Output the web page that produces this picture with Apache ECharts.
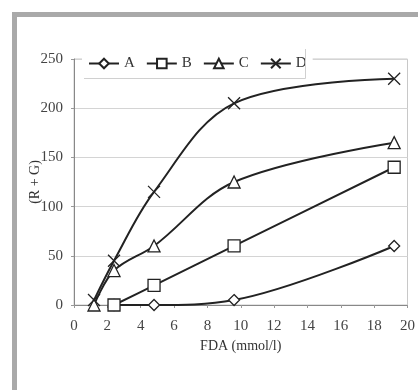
<!DOCTYPE html>
<html lang="en">
<head>
  <meta charset="utf-8">
  <title>FDA vs (R + G)</title>
  <style>
    * { margin: 0; padding: 0; }
    body { background: #fff; }
    #chart-container { width: 418px; height: 390px; }
  </style>
</head>
<body>
  <div id="chart-container"></div>
  <script src="https://fastly.jsdelivr.net/npm/echarts@6/dist/echarts.min.js"></script>
  <script>
    var dom = document.getElementById('chart-container');
    var myChart = echarts.init(dom, null, { renderer: 'canvas' });

    // FDA concentrations (mmol/l)
    const fda = [1.2, 2.4, 4.8, 9.6, 19.2];
    const seriesA = [null, 0, 0, 5, 60];
    const seriesB = [null, 0, 20, 60, 140];
    const seriesC = [0, 35, 60, 125, 165];
    const seriesD = [5, 45, 115, 205, 230];
    const names = ['A', 'B', 'C', 'D'];

    const crossPath = 'path://M0,0L10,10M10,0L0,10';
    const symbols = ['diamond', 'rect', 'triangle', crossPath];
    const sizes = [11, 12, 12, 12];

    function pairs(vals) {
      return fda.map(function (x, i) { return [x, vals[i]]; })
        .filter(function (p) { return p[1] !== null; });
    }

    const allVals = [seriesA, seriesB, seriesC, seriesD];
    const font = 'Liberation Serif';

    var option = {
      animation: false,
      backgroundColor: '#fff',
      graphic: [
        { type: 'rect', shape: { x: 12, y: 12, width: 420, height: 5 }, style: { fill: '#a9a9a9' } },
        { type: 'rect', shape: { x: 12, y: 12, width: 5, height: 390 }, style: { fill: '#a9a9a9' } },
        // legend frame (bottom and right edges only)
        { type: 'polyline', z: 10, shape: { points: [[84, 78.5], [305.5, 78.5], [305.5, 49]] },
          style: { stroke: '#d0d0d0', fill: null, lineWidth: 1 } }
      ],
      grid: { left: 74, right: 9, top: 59, bottom: 85, show: true, borderColor: '#c8c8c8', borderWidth: 1 },
      legend: {
        data: names,
        left: 82, top: 49,
        padding: [7, 6, 7, 6],
        itemGap: 11,
        itemWidth: 30, itemHeight: 12,
        backgroundColor: '#fff',
        textStyle: { fontFamily: font, fontSize: 15, color: '#333' }
      },
      xAxis: {
        type: 'value', min: 0, max: 20, interval: 2,
        name: 'FDA (mmol/l)', nameLocation: 'middle', nameGap: 34,
        nameMoveOverlap: false,
        nameTextStyle: { fontFamily: font, fontSize: 14, color: '#333' },
        axisLine: { lineStyle: { color: '#888' } },
        axisTick: { show: true, length: 3, lineStyle: { color: '#999' } },
        axisLabel: { fontFamily: font, fontSize: 15, color: '#444', margin: 14 },
        splitLine: { show: false }
      },
      yAxis: {
        type: 'value', min: 0, max: 250, interval: 50,
        name: '(R + G)', nameLocation: 'middle', nameGap: 32, nameRotate: 90,
        nameMoveOverlap: false,
        nameTextStyle: { fontFamily: font, fontSize: 14, color: '#333' },
        axisLine: { show: true, lineStyle: { color: '#888' } },
        axisTick: { show: true, length: 3, lineStyle: { color: '#999' } },
        axisLabel: { fontFamily: font, fontSize: 15, color: '#444', margin: 11 },
        splitLine: { show: true, lineStyle: { color: '#d4d4d4' } }
      },
      series: names.map(function (n, i) {
        return {
          name: n,
          type: 'line',
          data: pairs(allVals[i]),
          smooth: 0.35,
          symbol: symbols[i],
          symbolSize: sizes[i],
          z: 3 + i,
          lineStyle: { color: '#222', width: 2 },
          itemStyle: { color: '#fff', borderColor: '#222', borderWidth: 1.3 }
        };
      })
    };

    myChart.setOption(option);
    window.addEventListener('resize', myChart.resize);
  </script>
</body>
</html>
